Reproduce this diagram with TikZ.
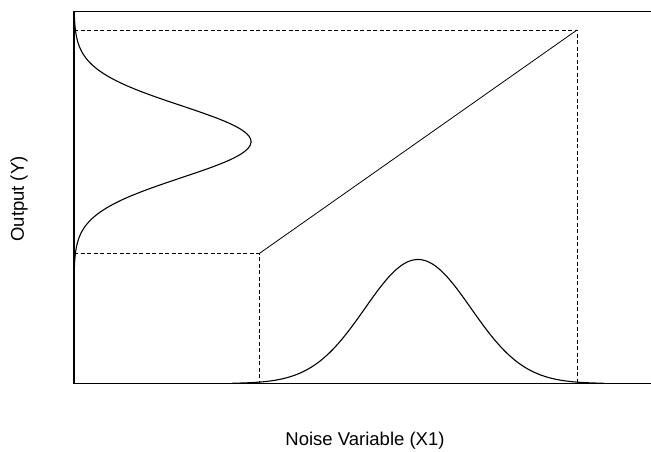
\documentclass[tikz,border=0pt]{standalone}
\usepackage{fontspec}
\setmainfont{Liberation Sans}
\begin{document}
\begin{tikzpicture}[x=1pt,y=-1pt,
  axisline/.style={line width=1.3pt},
  curveline/.style={line width=1.1pt},
  guide/.style={line width=0.7pt, dash pattern=on 4pt off 2.5pt},
  lbl/.style={font=\fontsize{18.5}{21}\selectfont, inner sep=0pt}]
\useasboundingbox (0,0) rectangle (651,452);
\coordinate (tl) at (74,11.7);
\coordinate (tr) at (651,11.7);
\coordinate (bl) at (74,383.5);
\coordinate (br) at (651,383.5);
\coordinate (lowY) at (74,253.7);
\coordinate (highY) at (74,30);
\coordinate (lowP) at (259,253.7);
\coordinate (highP) at (577,30);
\coordinate (lowX) at (259,383.5);
\coordinate (highX) at (577,383.5);
% frame
\draw[line width=0.9pt] (tl) -- (tr);
\draw[axisline] (tr) -- (tl) -- (bl) -- (br);
% guides
\draw[guide] (highY) -- (highP) -- (highX);
\draw[guide] (lowY) -- (lowP) -- (lowX);
% line
\draw[line width=0.8pt] (lowP) -- (highP);
% bottom density
\draw[curveline] plot[domain=-3.5:3.5, samples=120, smooth] ({418+53*\x}, {383.5-124*exp(-\x*\x/2)});
% left density
\draw[curveline] plot[domain=-3.6:3.6, samples=120, smooth] ({74+177*exp(-\x*\x/2)}, {141.7+36*\x});
% labels
\node[lbl] (xl) at (365,441) {Noise Variable (X1)};
\node[lbl, rotate=90] (yl) at (19,199) {Output (Y)};
\end{tikzpicture}
\end{document}
